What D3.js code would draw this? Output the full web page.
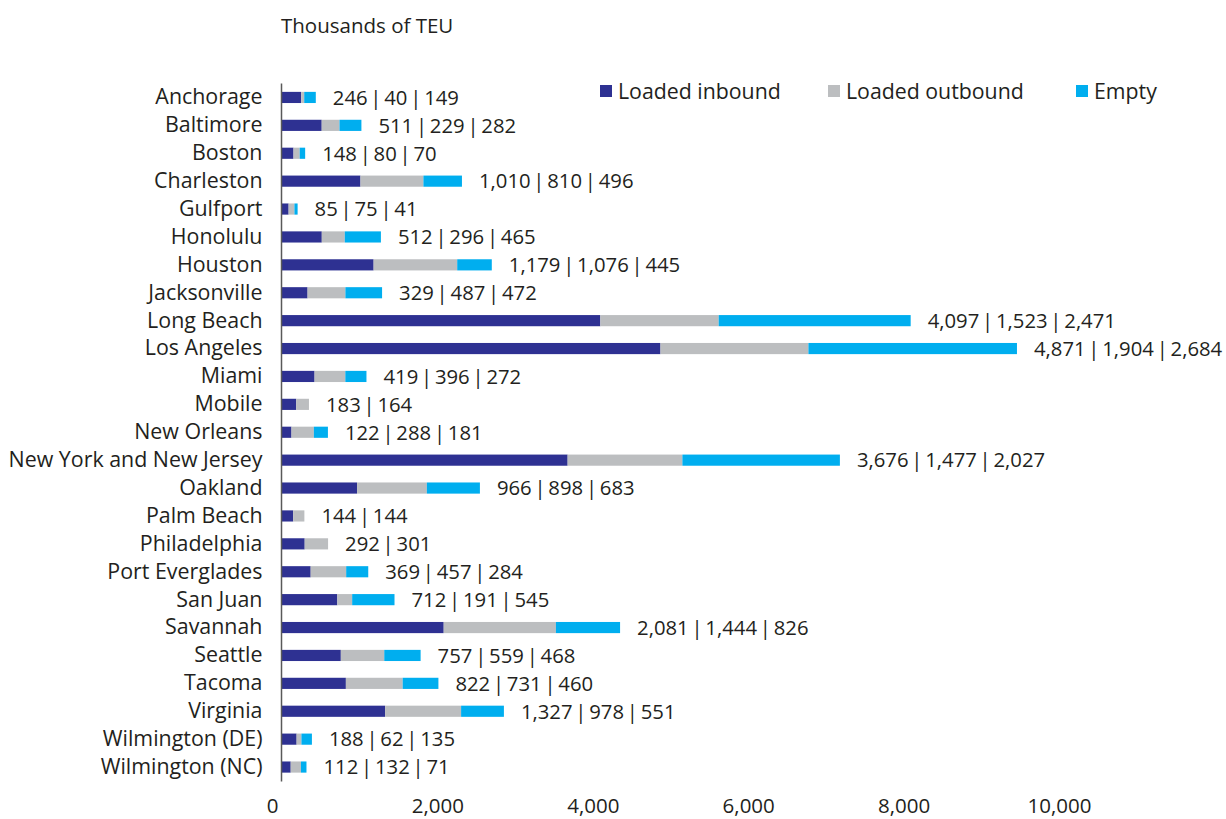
<!DOCTYPE html>
<html>
<head>
<meta charset="utf-8">
<script src="https://cdn.jsdelivr.net/npm/d3@7"></script>
<style>
  html, body { margin: 0; padding: 0; background: #fff; }
  svg text { font-family: "Open Sans", "Noto Sans", sans-serif; fill: #231f20; }
</style>
</head>
<body>
<svg id="chart" width="1226" height="819"></svg>
<script>
// Container traffic by port, thousands of TEU
const ports = [
  "Anchorage", "Baltimore", "Boston", "Charleston", "Gulfport", "Honolulu",
  "Houston", "Jacksonville", "Long Beach", "Los Angeles", "Miami", "Mobile",
  "New Orleans", "New York and New Jersey", "Oakland", "Palm Beach",
  "Philadelphia", "Port Everglades", "San Juan", "Savannah", "Seattle",
  "Tacoma", "Virginia", "Wilmington (DE)", "Wilmington (NC)"
];
const loadedInbound = [246, 511, 148, 1010, 85, 512, 1179, 329, 4097, 4871, 419, 183,
  122, 3676, 966, 144, 292, 369, 712, 2081, 757, 822, 1327, 188, 112];
const loadedOutbound = [40, 229, 80, 810, 75, 296, 1076, 487, 1523, 1904, 396, 164,
  288, 1477, 898, 144, 301, 457, 191, 1444, 559, 731, 978, 62, 132];
const empty = [149, 282, 70, 496, 41, 465, 445, 472, 2471, 2684, 272, null,
  181, 2027, 683, null, null, 284, 545, 826, 468, 460, 551, 135, 71];

const seriesNames = ["Loaded inbound", "Loaded outbound", "Empty"];
const seriesColors = ["#2e3192", "#bcbec0", "#00aeef"];
const xTicks = [0, 2000, 4000, 6000, 8000, 10000];
const unitLabel = "Thousands of TEU";

const rows = ports.map((p, i) => ({
  port: p,
  "Loaded inbound": loadedInbound[i],
  "Loaded outbound": loadedOutbound[i],
  "Empty": empty[i] || 0,
  values: [loadedInbound[i], loadedOutbound[i], empty[i]].filter(v => v != null)
}));

const svg = d3.select("#chart");
const fmt = d3.format(",");

const x = d3.scaleLinear().domain([0, 10000]).range([282, 1059]);
const y = d3.scaleBand().domain(ports).range([83.5, 781]).paddingInner(0.6).paddingOuter(0.3);

const stack = d3.stack().keys(seriesNames)(rows);
const color = d3.scaleOrdinal().domain(seriesNames).range(seriesColors);

// stacked bars
svg.append("g").selectAll("g")
  .data(stack).join("g")
  .attr("fill", d => color(d.key))
  .selectAll("rect")
  .data(d => d).join("rect")
  .attr("x", d => x(d[0]))
  .attr("y", d => y(d.data.port))
  .attr("width", d => Math.max(0, x(d[1]) - x(d[0])))
  .attr("height", y.bandwidth());

// value labels at the end of each bar
svg.append("g").selectAll("text")
  .data(rows).join("text")
  .attr("x", d => x(d3.sum(d.values)) + 17)
  .attr("y", d => y(d.port) + y.bandwidth() / 2)
  .attr("dy", "0.36em")
  .style("font-size", "20.3px")
  .style("word-spacing", "-2.5px")
  .text(d => d.values.map(fmt).join(" | "));

// category axis
const yAxis = svg.append("g")
  .attr("transform", "translate(281.5,0)")
  .call(d3.axisLeft(y).tickSize(0).tickPadding(19));
yAxis.select(".domain").remove();
yAxis.selectAll("text")
  .style("font-size", "21.4px")
  .attr("fill", "#231f20");
svg.append("line")
  .attr("x1", 281.5).attr("x2", 281.5)
  .attr("y1", 83.5).attr("y2", 781.5)
  .attr("stroke", "#595959").attr("stroke-width", 1.5);

// value axis labels
const xAxis = svg.append("g")
  .attr("transform", "translate(0,798)")
  .call(d3.axisBottom(x).tickValues(xTicks).tickFormat(fmt).tickSize(0).tickPadding(0));
xAxis.select(".domain").remove();
xAxis.selectAll("text")
  .style("font-size", "20.5px")
  .attr("fill", "#231f20")
  .attr("dx", d => d === 0 ? -10 : 0);

// unit label
svg.append("text")
  .attr("x", 281).attr("y", 33)
  .style("font-size", "20.5px")
  .text(unitLabel);

// legend
const legendX = [600, 828, 1076];
const legend = svg.append("g").selectAll("g")
  .data(seriesNames).join("g")
  .attr("transform", (d, i) => `translate(${legendX[i]},85)`);
legend.append("rect")
  .attr("width", 12).attr("height", 12)
  .attr("fill", d => color(d));
legend.append("text")
  .attr("x", 18).attr("y", 6)
  .attr("dy", "0.36em")
  .style("font-size", "21.3px")
  .text(d => d);
</script>
</body>
</html>
